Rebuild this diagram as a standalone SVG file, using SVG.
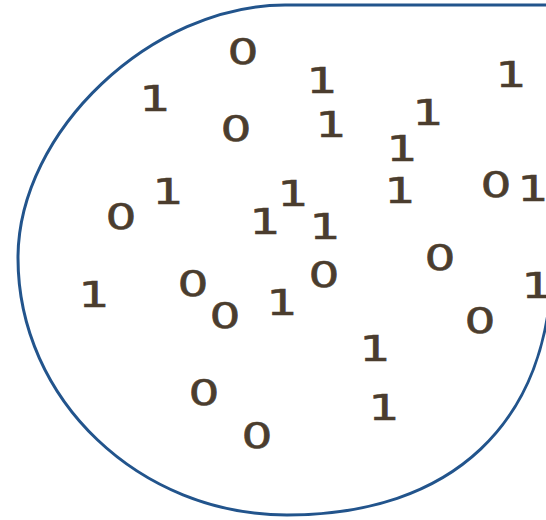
<svg xmlns="http://www.w3.org/2000/svg" width="546" height="520" viewBox="0 0 546 520">
<style>
.outline{fill:none;stroke:#22548c;stroke-width:3}
.d{font-family:"DejaVu Sans",sans-serif;font-size:35.5px;fill:#4b3d2e;stroke:#4b3d2e;stroke-width:0.6;text-anchor:middle}
</style>
<rect width="546" height="520" fill="#ffffff"/>
<g id="boundary">
<path class="outline" d="M600,5 H285 C152,5 18,131 18,258 C18,400 140,515 287,515 C450,515 552,425 552,258 L552,200"/>
</g>
<g id="digits">
<text class="d" transform="translate(243,64) scale(1.37,1)">0</text>
<text class="d" transform="translate(322,93) scale(1.37,1)">1</text>
<text class="d" transform="translate(511,87) scale(1.37,1)">1</text>
<text class="d" transform="translate(155,111) scale(1.37,1)">1</text>
<text class="d" transform="translate(236,141) scale(1.37,1)">0</text>
<text class="d" transform="translate(331,137) scale(1.37,1)">1</text>
<text class="d" transform="translate(428,125) scale(1.37,1)">1</text>
<text class="d" transform="translate(402,161) scale(1.37,1)">1</text>
<text class="d" transform="translate(400,203) scale(1.37,1)">1</text>
<text class="d" transform="translate(496,197) scale(1.37,1)">0</text>
<text class="d" transform="translate(533,201) scale(1.37,1)">1</text>
<text class="d" transform="translate(168,204) scale(1.37,1)">1</text>
<text class="d" transform="translate(121,229) scale(1.37,1)">0</text>
<text class="d" transform="translate(293,206) scale(1.37,1)">1</text>
<text class="d" transform="translate(265,234) scale(1.37,1)">1</text>
<text class="d" transform="translate(325,239) scale(1.37,1)">1</text>
<text class="d" transform="translate(440,270) scale(1.37,1)">0</text>
<text class="d" transform="translate(324,287) scale(1.37,1)">0</text>
<text class="d" transform="translate(94,307) scale(1.37,1)">1</text>
<text class="d" transform="translate(193,296) scale(1.37,1)">0</text>
<text class="d" transform="translate(225,328) scale(1.37,1)">0</text>
<text class="d" transform="translate(282,315) scale(1.37,1)">1</text>
<text class="d" transform="translate(537,298) scale(1.37,1)">1</text>
<text class="d" transform="translate(480,333) scale(1.37,1)">0</text>
<text class="d" transform="translate(375,361) scale(1.37,1)">1</text>
<text class="d" transform="translate(384,420) scale(1.37,1)">1</text>
<text class="d" transform="translate(204,405) scale(1.37,1)">0</text>
<text class="d" transform="translate(257,448) scale(1.37,1)">0</text>
</g>
</svg>
